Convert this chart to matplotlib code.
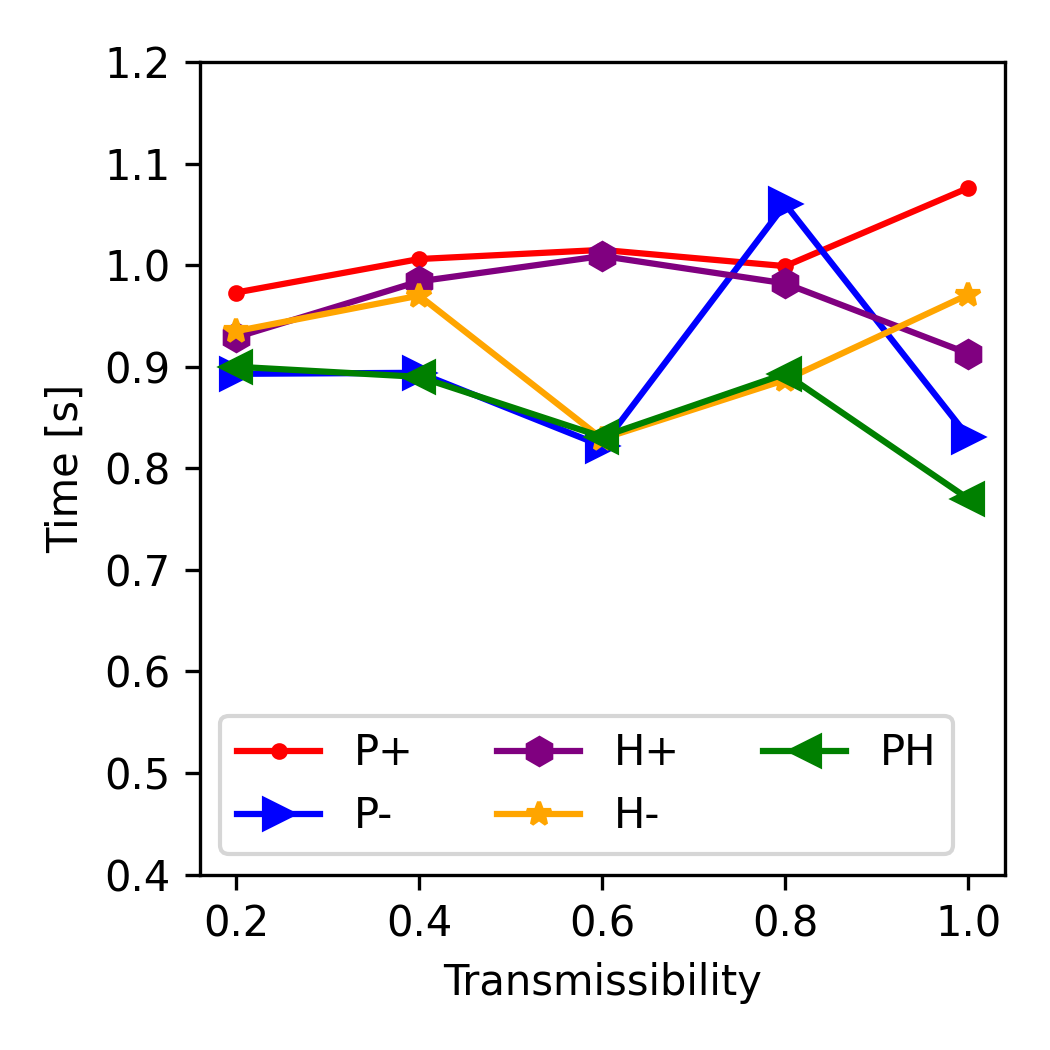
import numpy as np
import matplotlib.pyplot as plt

# Transmissibility sweep
trans = [0.2, 0.4, 0.6, 0.8, 1.0]

# times (s) per strategy
p_plus = [0.973, 1.006, 1.015, 0.999, 1.076]
p_minus = [0.893, 0.894, 0.822, 1.060, 0.831]
h_plus = [0.929, 0.984, 1.009, 0.982, 0.913]
h_minus = [0.935, 0.970, 0.829, 0.887, 0.971]
ph = [0.900, 0.890, 0.831, 0.893, 0.770]

labels = ['P+', 'P-', 'H+', 'H-', 'PH']
series = [p_plus, p_minus, h_plus, h_minus, ph]
colors = ['red', 'blue', 'purple', 'orange', 'green']
markers = ['.', '>', 'h', '*', '<']
sizes = [6, 7, 6.5, 6, 7]

fig, ax = plt.subplots(figsize=(3.5, 3.5), dpi=300)
fig.subplots_adjust(left=0.19, right=0.957, top=0.941, bottom=0.167)

for y, lab, c, m, s in zip(series, labels, colors, markers, sizes):
    ax.plot(trans, y, color=c, marker=m, markersize=s, label=lab)

ax.set_ylim(0.4, 1.2)
ax.set_yticks(np.arange(0.4, 1.21, 0.1))
ax.set_xticks(trans)
ax.set_xlabel('Transmissibility')
ax.set_ylabel('Time [s]')
ax.legend(loc='lower left', ncol=3)

fig.savefig('out.png')
